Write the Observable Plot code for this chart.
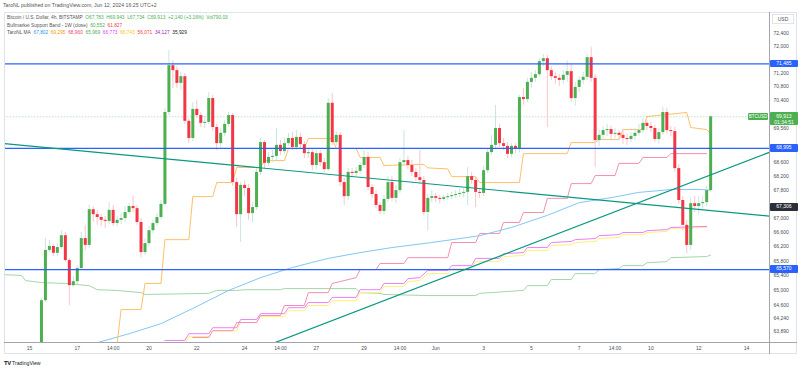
<!DOCTYPE html>
<html><head><meta charset="utf-8">
<script src="https://cdn.jsdelivr.net/npm/d3@7"></script>
<script src="https://cdn.jsdelivr.net/npm/@observablehq/plot@0.6"></script>
<style>
html,body{margin:0;padding:0;background:#fff;}
#wrap{position:relative;width:800px;height:370px;overflow:hidden;font-family:"Liberation Sans",Arial,sans-serif;color:#131722;}
#wrap svg{position:absolute;left:0;top:0;}
.ov{position:absolute;white-space:nowrap;line-height:1;}
.tag{position:absolute;color:#fff;font-size:5px;text-align:center;border-radius:1px;white-space:nowrap;}
</style></head><body><div id="wrap"></div>
<script>
// ---------- candles (4h bars, first bar May 15 14:00, UTC+2 display time) ----------
const firstBar = Date.UTC(2024, 4, 15, 14);
const opens = [63000,64720,66100,66210,66020,66180,66510,65820,65130,65240,
 65600,66430,66240,67240,67100,67020,66940,66910,67220,66850,
 66940,66990,67160,67330,67270,66880,66040,66290,66650,66850,
 67020,67390,70040,71430,71280,70900,71100,69780,69280,70130,
 69950,69720,69750,70450,69600,69130,69430,69690,69950,68010,
 67100,67930,67840,67130,67300,68300,69160,68560,68730,68760,
 69080,68900,69130,69280,69020,69310,69100,68840,68870,68500,
 68840,68580,68380,70310,69160,69370,68010,67610,68300,68270,
 68330,68500,68730,67870,67670,67360,67190,67530,68010,67560,
 67780,68580,68640,68500,68300,68150,68070,67160,67560,67610,
 67560,67530,67580,67610,67640,67670,67700,67730,68180,68070,
 67730,67700,68350,68870,69080,69570,69130,69050,68820,69050,
 68960,70480,70420,70930,71050,71160,71550,71640,71280,71100,
 71050,70990,71140,71250,70450,70780,70990,71080,71670,71050,
 69220,69370,69510,69540,69400,69430,69370,69280,69250,69340,
 69430,69510,69720,69630,69570,69250,69450,70040,69510,69480,
 68410,67500,66800,66240,67410,67330,67410,67440,67783];
const closes = [64720,66100,66210,66020,66180,66510,65820,65130,65240,65600,
 66430,66240,67240,67100,67020,66940,66910,67220,66850,66940,
 66990,67160,67330,67270,66880,66040,66290,66650,66850,67020,
 67390,70040,71430,71280,70900,71100,69780,69280,70130,69950,
 69720,69750,70450,69600,69130,69430,69690,69950,68010,67100,
 67930,67840,67130,67300,68300,69160,68560,68730,68760,69080,
 68900,69130,69280,69020,69310,69100,68840,68870,68500,68840,
 68580,68380,70310,69160,69370,68010,67610,68300,68270,68330,
 68500,68730,67870,67670,67360,67190,67530,68010,67560,67780,
 68580,68640,68500,68300,68150,68070,67160,67560,67610,67560,
 67530,67580,67610,67640,67670,67700,67730,68180,68070,67730,
 67700,68350,68870,69080,69570,69130,69050,68820,69050,68960,
 70480,70420,70930,71050,71160,71550,71640,71280,71100,71050,
 70990,71140,71250,70450,70780,70990,71080,71670,71050,69220,
 69370,69510,69540,69400,69430,69370,69280,69250,69340,69430,
 69510,69720,69630,69570,69250,69450,70040,69510,69480,68410,
 67500,66800,66240,67410,67330,67410,67440,67780,69913];
const highs = [64780,66430,66380,66260,66290,66650,66600,65880,65380,65680,
 66600,66800,67360,67330,67220,67100,67050,67440,67360,67050,
 67130,67330,67410,67610,67360,66990,66430,66770,66940,67130,
 67500,70160,71890,71580,71400,71230,71200,69860,70330,70390,
 70040,69920,70630,70540,69690,69570,69800,70040,70010,68130,
 68010,68070,67950,67440,68410,69280,69220,68870,68930,69570,
 69220,69280,69430,69450,69510,69430,69190,68990,68960,68930,
 68930,68700,70450,70600,69480,69450,68130,68410,68410,68440,
 68580,68930,68870,67950,67780,67440,67640,68180,68180,67930,
 68700,69510,68760,68640,68410,68930,68180,67670,67780,67700,
 67640,67640,67700,67730,67780,67840,67840,68440,68300,68180,
 67840,68470,68990,69370,70250,69690,69280,69160,69130,69130,
 70540,70750,71050,71230,71280,71640,71760,71730,71400,71230,
 71160,71280,71580,71460,70930,71110,71230,71760,71980,71160,
 69510,69630,69690,69630,69570,69510,69540,69400,69450,69570,
 69690,69860,69800,69750,69660,69570,70190,70160,69630,69600,
 68530,67610,66940,67560,67610,67610,67610,67900,69943];
const lows = [62800,64670,66040,65930,65930,66130,65770,64590,65080,65160,
 65550,66100,66150,66880,66800,66770,66710,66820,66770,66770,
 66820,66880,67100,67160,66800,65900,65960,66210,66570,66770,
 66960,67330,69950,70750,70750,70690,69690,69130,69190,69860,
 69600,69570,69690,69480,68930,69020,69340,69600,67900,66740,
 66320,67610,66940,66880,67220,68210,68410,68470,68580,68640,
 68790,68820,69050,68930,68930,68990,68700,68700,68350,68380,
 68470,68300,68330,69080,69050,67900,67360,67500,68150,68180,
 68240,68410,67780,67560,67270,67100,67100,67440,67470,67410,
 67700,68470,68380,68180,68040,67950,67070,66650,67440,67440,
 67410,67470,67500,67530,67560,67580,67580,67360,67950,67300,
 67560,67610,68270,68790,68990,69020,68930,68700,68730,68840,
 68870,70250,70330,70750,70930,71100,71400,69600,70990,70870,
 70810,70870,70930,70330,70220,70630,70870,70990,70930,68440,
 69050,69220,69340,69220,69280,69220,69110,69080,69160,69220,
 69340,69430,69510,69450,69160,69110,69370,69400,69340,68300,
 67390,66650,66010,66100,67160,67100,67270,67330,67734];

// ---------- indicator lines (bar index, price) ----------
const blueIdx = [13,22,30,38,47,55,63,72,80,88,98,110,118,127,135,143,150,158,166,168];
const blueVal = [63560,63830,64100,64510,65000,65350,65630,65880,66040,66180,66320,66510,66740,67080,67440,67580,67730,67810,67810,67790];
const orangeIdx = [13,19,20,25,26,30,31,37,38,43,44,48,49,55,56,61,62,66,67,73,74,79,80,85,86,96,97,102,103,109,110,120,121,132,133,139,140,145,146,151,152,162,163,167,168];
const orangeVal = [63570,63570,64480,64480,65190,65190,66400,66400,67610,67610,68010,68010,68440,68440,68640,68640,68990,68990,69280,69280,68990,68990,68730,68730,68500,68530,68430,68400,68180,68180,68010,68010,68840,68840,69160,69160,69250,69250,69540,69540,69920,70040,69600,69540,69420];
const pinkIdx = [38,42,43,48,49,54,55,60,61,66,67,72,73,79,80,84,85,91,92,102,103,109,110,115,116,120,121,126,127,132,133,138,139,144,145,150,151,157,158,167];
const pinkVal = [63730,63730,63910,63910,64130,64130,64320,64320,64590,64590,64940,64940,65190,65350,65570,65570,65740,65740,65900,65900,66320,66320,66570,66570,66880,66880,67160,67160,67560,67560,67980,67980,68210,68210,68560,68560,68730,68730,68840,68840];
const violetIdx = [31,36,37,42,43,49,50,54,55,61,62,66,67,72,73,79,80,85,86,91,92,95,97,102,103,108,109,115,116,121,122,127,128,133,134,139,140,145,146,151,152,157,158,167];
const violetVal = [63650,63650,63830,63830,63990,63990,64210,64210,64370,64370,64530,64530,64670,64670,64810,64810,65020,65020,65190,65190,65320,65350,65550,65550,65680,65680,65880,65880,66010,66040,66180,66180,66320,66350,66400,66430,66510,66540,66600,66600,66650,66680,66740,66770];
const yellowVal = [63570,63570,63750,63750,63910,63910,64130,64130,64290,64290,64450,64450,64590,64590,64720,64720,64940,64940,65110,65110,65240,65270,65460,65460,65600,65600,65790,65790,65930,65960,66100,66100,66240,66260,66320,66350,66430,66460,66540,66540,66600,66630,66710,66740];
const greenIdx = [-10,-5,-4,0,6,12,14,19,25,26,42,44,49,51,60,61,79,80,85,86,97,109,110,121,122,127,128,133,134,139,140,145,146,151,152,157,158,167,168];
const greenVal = [65435,65410,65270,65215,65190,65130,65020,65000,64940,64890,64920,65000,65000,65020,65020,65050,65050,64940,64920,64890,64860,64860,64920,65000,65130,65130,65300,65300,65460,65460,65570,65600,65680,65680,65760,65790,65900,65930,65970];

// ---------- drawn trend lines and levels ----------
const trendDown = [["2024-05-14T00:48Z", 69130], ["2024-06-15T01:12Z", 67060]];
const trendUp = [["2024-05-25T09:12Z", 63600], ["2024-06-15T01:12Z", 68880]];
const levels = [71485, 68995, 65570];
const lastPrice = 69913;
const trendLabel = 67306;

// ---------- axes ----------
const xTickTimes = ["2024-05-15T02:00Z","2024-05-17T02:00Z","2024-05-18T14:00Z","2024-05-20T02:00Z","2024-05-22T02:00Z","2024-05-24T02:00Z","2024-05-25T14:00Z","2024-05-27T02:00Z","2024-05-29T02:00Z","2024-05-30T14:00Z","2024-06-01T02:00Z","2024-06-03T02:00Z","2024-06-05T02:00Z","2024-06-07T02:00Z","2024-06-08T14:00Z","2024-06-10T02:00Z","2024-06-12T02:00Z","2024-06-14T02:00Z"];
const xTickLabels = ["15","17","14:00","20","22","24","14:00","27","29","14:00","Jun","3","5","7","14:00","10","12","14"];
const yTicks = [72400,72000,71200,70800,70400,69560,68600,68200,67800,67000,66600,66200,65800,65400,65000,64600,64240,63890];
const xDomain = ["2024-05-14T00:54Z","2024-06-15T01:06Z"];
const yDomain = [63595, 73041];

// ---------- legend text ----------
const maValues = ["67,802","69,295","68,960","65,969","66,773","66,743","56,071","34,127","35,929"];
const maColors = ["#2196f3","#ff9800","#ec407a","#4caf50","#e040fb","#f9c80e","#f44336","#9c27b0","#131722"];

// ---------- build ----------
const H4 = 4 * 3600e3;
const tOf = i => new Date(firstBar + i * H4);
const bars = closes.map((c, i) => ({t: tOf(i), o: opens[i], h: highs[i], l: lows[i], c}));
const up = bars.filter(d => d.c >= d.o), dn = bars.filter(d => d.c < d.o);
const pts = (idx, val) => idx.map((k, j) => ({t: tOf(k), v: val[j]}));
const tl = arr => arr.map(([t, v]) => ({t: new Date(t), v}));
const labelMap = new Map(xTickTimes.map((t, i) => [+new Date(t), xTickLabels[i]]));

const plot = Plot.plot({
  width: 800, height: 370,
  marginTop: 12, marginBottom: 28, marginLeft: 4, marginRight: 31,
  style: {background: "transparent", fontFamily: "Liberation Sans, Arial, sans-serif", fontSize: "5px", color: "#4a4e59"},
  x: {type: "utc", domain: xDomain.map(d => new Date(d)), ticks: xTickTimes.map(d => new Date(d)),
      tickFormat: d => labelMap.get(+d), tickSize: 0, tickPadding: 4, label: null},
  y: {type: "log", domain: yDomain, axis: "right", ticks: yTicks, tickFormat: d3.format(","),
      tickSize: 0, tickPadding: 4, label: null},
  marks: [
    Plot.frame({stroke: "#e0e3eb"}),
    Plot.line(pts(greenIdx, greenVal), {x: "t", y: "v", stroke: "#a5d6a7", strokeWidth: 1, clip: true}),
    Plot.line(pts(violetIdx, yellowVal), {x: "t", y: "v", stroke: "#fff176", strokeWidth: 1, clip: true}),
    Plot.line(pts(violetIdx, violetVal), {x: "t", y: "v", stroke: "#ea80fc", strokeWidth: 1, clip: true}),
    Plot.line(pts(pinkIdx, pinkVal), {x: "t", y: "v", stroke: "#f48fb1", strokeWidth: 1, clip: true}),
    Plot.line(pts(blueIdx, blueVal), {x: "t", y: "v", stroke: "#81c7f5", strokeWidth: 1, clip: true}),
    Plot.line(pts(orangeIdx, orangeVal), {x: "t", y: "v", stroke: "#ffc068", strokeWidth: 1, clip: true}),
    Plot.ruleY([lastPrice], {stroke: "#4caf50", strokeOpacity: 0.35, strokeDasharray: "1.5,1.5"}),
    Plot.ruleX(up, {x: "t", y1: "l", y2: "h", stroke: "#c9e4e2", strokeWidth: 1, clip: true}),
    Plot.ruleX(dn, {x: "t", y1: "l", y2: "h", stroke: "#f7c6cc", strokeWidth: 1, clip: true}),
    Plot.ruleX(up, {x: "t", y1: "o", y2: "c", stroke: "#4caf50", strokeWidth: 3, clip: true}),
    Plot.ruleX(dn, {x: "t", y1: "o", y2: "c", stroke: "#f23645", strokeWidth: 3, clip: true}),
    Plot.ruleY(levels, {stroke: "#2962ff", strokeWidth: 1.2}),
    Plot.line(tl(trendDown), {x: "t", y: "v", stroke: "#089981", strokeWidth: 1.2, clip: true}),
    Plot.line(tl(trendUp), {x: "t", y: "v", stroke: "#089981", strokeWidth: 1.2, clip: true})
  ]
});
const wrap = document.getElementById("wrap");
wrap.appendChild(plot);

const ys = plot.scale("y");
const Y = d3.scaleLog().domain(ys.domain).range(ys.range);
const fmt = d3.format(",");
function add(html, css, cls) {
  const el = document.createElement("div");
  el.className = cls || "ov";
  el.style.cssText = css;
  el.innerHTML = html;
  wrap.appendChild(el);
  return el;
}
// frame decorations
add("", "left:4px;top:12px;width:793px;height:342px;border:1px solid #e0e3eb;box-sizing:border-box;");
add("", "left:769px;top:12px;width:1px;height:342px;background:#a3a6af;");
add("", "left:4px;top:342px;width:793px;height:1px;background:#a3a6af;");
add("USD", "left:772px;top:14px;width:22px;height:10px;border:1px solid #e0e3eb;box-sizing:border-box;font-size:5px;color:#4a4e59;text-align:center;line-height:9px;");

// header + legend
add("TaroNL published on TradingView.com, Jun 12, 2024 16:25 UTC+2", "left:3px;top:3px;font-size:5.2px;color:#555;");
add('Bitcoin / U.S. Dollar, 4h, BITSTAMP&nbsp; <span style="color:#4caf50">O67,783 &nbsp;H69,943 &nbsp;L67,734 &nbsp;C69,913 &nbsp;+2,140 (+3.16%) &nbsp;Vol790.03</span>', "left:7px;top:16px;font-size:4.8px;color:#555;");
add('Bullmarket Support Band - 1W (close)&nbsp; <span style="color:#4caf50">60,552</span> &nbsp;<span style="color:#f23645">61,827</span>', "left:7px;top:23.5px;font-size:4.8px;color:#555;");
add('TaroNL MA&nbsp; ' + maValues.map((v, i) => `<span style="color:${maColors[i]}">${v}</span>`).join(" &nbsp;"), "left:7px;top:31px;font-size:4.8px;color:#555;");

// price tags on the right axis
function tag(v, color, text, left, width, h) {
  const y = Y(v);
  return add(text, `left:${left}px;top:${y - h / 2}px;width:${width}px;height:${h}px;line-height:${h}px;background:${color};`, "tag");
}
tag(levels[0], "#2962ff", fmt(levels[0]), 770, 28, 7.5);
tag(levels[1], "#2962ff", fmt(levels[1]), 770, 28, 7.5);
tag(levels[2], "#2962ff", fmt(levels[2]), 770, 28, 7.5);
tag(trendLabel, "#2a2e39", fmt(trendLabel), 770, 28, 7.5);
tag(lastPrice, "#4caf50", "BTCUSD", 748, 20, 7).style.fontSize = "4.5px";
{
  const y = Y(lastPrice);
  add(fmt(lastPrice) + "<br>01:34:51", `left:770px;top:${y - 3.8}px;width:28px;height:13px;line-height:6px;padding-top:0.5px;box-sizing:border-box;background:#4caf50;`, "tag");
}
// logo
add('<b style="font-size:6px;letter-spacing:-0.5px">TV</b> TradingView', "left:4px;top:360px;font-size:5.2px;color:#131722;");
</script></body></html>
